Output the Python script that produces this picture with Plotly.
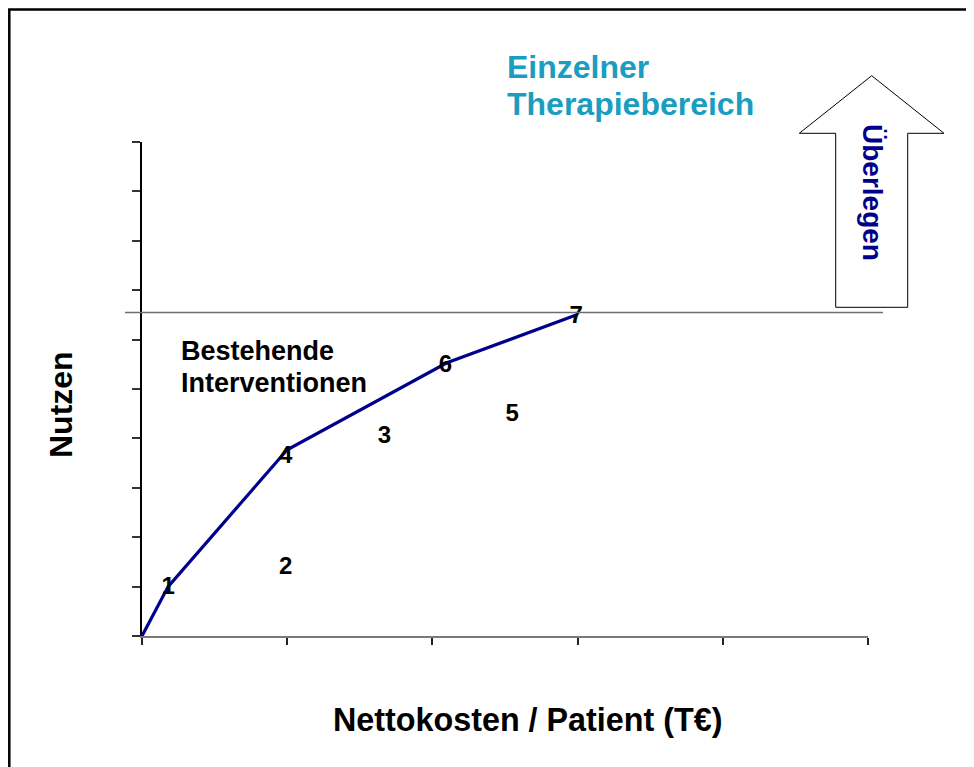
import plotly.graph_objects as go

# ---- data ----
labels = ["1", "2", "3", "4", "5", "6", "7"]
label_x = [0.18, 0.99, 1.67, 0.99, 2.55, 2.09, 2.99]
label_y = [0.97, 1.38, 4.03, 3.62, 4.47, 5.47, 6.46]

frontier_x = [0.0, 0.18, 1.0, 2.10, 2.99]
frontier_y = [0.0, 1.0, 3.77, 5.53, 6.50]

reference_y = 6.55  # horizontal reference line

x_ticks = [0, 1, 2, 3, 4, 5]
y_ticks = [0, 1, 2, 3, 4, 5, 6, 7, 8, 9, 10]

OFF = 8  # page body margin
W, H = 974 - OFF, 767 - OFF
# plot area in page pixels
PL, PR, PT, PB = 142, 868, 142, 636


def px(x):
    return (x - PL) / (PR - PL)


def py(y):
    return (PB - y) / (PB - PT)


FONT = "Arial, Liberation Sans, Helvetica, sans-serif"
NAVY = "#00008B"
TEAL = "#1A9DC0"

fig = go.Figure()

fig.add_trace(go.Scatter(
    x=frontier_x, y=frontier_y, mode="lines",
    line=dict(color=NAVY, width=3.2), cliponaxis=False, hoverinfo="skip"))

fig.add_trace(go.Scatter(
    x=label_x, y=label_y, mode="text", text=labels,
    textposition="middle center",
    textfont=dict(family=FONT, size=24, color="black", weight="bold"),
    cliponaxis=False))

shapes = []
# outer frame (extends beyond right/bottom edge)
shapes.append(dict(type="rect", xref="paper", yref="paper",
                   x0=px(9.3), x1=px(1000), y0=py(800), y1=py(9.4),
                   line=dict(color="black", width=2.5), layer="below"))
# horizontal reference line
shapes.append(dict(type="line", xref="paper", yref="y",
                   x0=px(125), x1=px(883), y0=reference_y, y1=reference_y,
                   line=dict(color="#6e6e6e", width=1.5)))
# arrow "Überlegen"
pts = [(871.7, 75.7), (944, 133.3), (907.7, 133.3), (907.7, 307.3),
       (835.7, 307.3), (835.7, 133.3), (799.3, 133.3)]
path = "M " + " L ".join(f"{px(a):.5f},{py(b):.5f}" for a, b in pts) + " Z"
shapes.append(dict(type="path", xref="paper", yref="paper", path=path,
                   fillcolor="white", line=dict(color="black", width=1)))

annotations = [
    dict(text="Einzelner", x=px(505), y=py(67), xanchor="left", yanchor="middle",
         font=dict(family=FONT, size=32, color=TEAL, weight="bold")),
    dict(text="Therapiebereich", x=px(505), y=py(104), xanchor="left", yanchor="middle",
         font=dict(family=FONT, size=32, color=TEAL, weight="bold")),
    dict(text="Bestehende", x=px(178.5), y=py(351), xanchor="left", yanchor="middle",
         font=dict(family=FONT, size=27, color="black", weight="bold")),
    dict(text="Interventionen", x=px(178.5), y=py(383), xanchor="left", yanchor="middle",
         font=dict(family=FONT, size=27, color="black", weight="bold")),
    dict(text="Nettokosten / Patient (T€)", x=px(527), y=py(720),
         xanchor="center", yanchor="middle",
         font=dict(family=FONT, size=32.3, color="black", weight="bold")),
    dict(text="Nutzen", x=px(61), y=py(405), textangle=-90,
         xanchor="center", yanchor="middle",
         font=dict(family=FONT, size=32, color="black", weight="bold")),
    dict(text="Überlegen", x=px(872), y=py(192), textangle=90,
         xanchor="center", yanchor="middle",
         font=dict(family=FONT, size=28, color=NAVY, weight="bold")),
]
for a in annotations:
    a.update(xref="paper", yref="paper", showarrow=False)

fig.update_layout(
    width=W, height=H,
    margin=dict(l=PL - OFF, r=974 - PR, t=PT - OFF, b=767 - PB, pad=0),
    paper_bgcolor="white", plot_bgcolor="white",
    showlegend=False,
    shapes=shapes, annotations=annotations,
    xaxis=dict(range=[0, 5], tickvals=x_ticks, showticklabels=False,
               ticks="outside", ticklen=7, tickwidth=1.5, tickcolor="#222222",
               showline=True, linecolor="#7a7a7a", linewidth=2,
               showgrid=False, zeroline=False, fixedrange=True),
    yaxis=dict(range=[0, 10], tickvals=y_ticks, showticklabels=False,
               ticks="outside", ticklen=8, tickwidth=1.5, tickcolor="#333333",
               showline=True, linecolor="black", linewidth=1.5,
               showgrid=False, zeroline=False, fixedrange=True),
)

fig.write_html("out.html")
